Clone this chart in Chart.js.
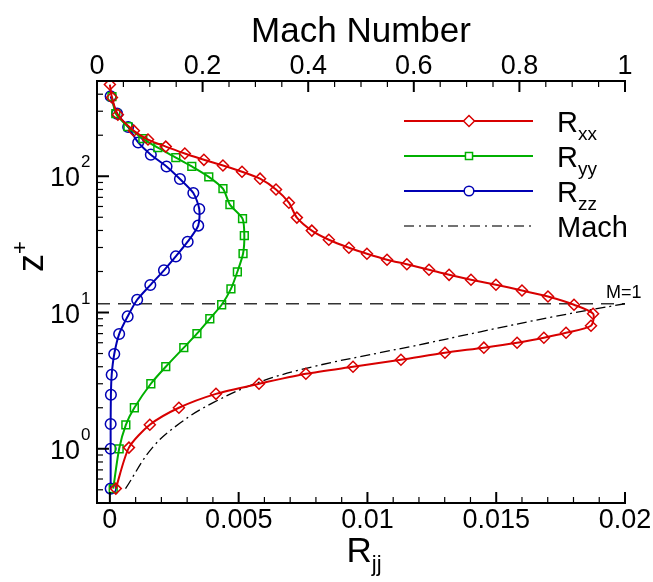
<!DOCTYPE html>
<html>
<head>
<meta charset="utf-8">
<script src="https://cdn.jsdelivr.net/npm/chart.js@4.4.0/dist/chart.umd.min.js"></script>
<style>
body{margin:0;background:#fff;}
#wrap{width:653px;height:582px;}
</style>
</head>
<body>
<div id="wrap"><canvas id="myChart" width="653" height="582"></canvas></div>
<script>
// R_xx profile (red diamonds)
var zXX = [471,378,283,216,186,165,147,132,120,108,96,80,64,49.7,39.9,34.2,29.9,27.0,24.4,22.6,20.6,18.9,17.4,16.0,14.5,13.1,11.4,9.8,8.0,7.1,6.53,6.0,5.52,5.07,4.5,4.0,3.55,3.0,2.53,2.0,1.5,1.02,0.51];
var rXX = [0.00000,0.00008,0.00031,0.00093,0.00148,0.00217,0.00291,0.00365,0.00439,0.00513,0.00583,0.00645,0.00695,0.00726,0.00784,0.00850,0.00928,0.00998,0.01076,0.01153,0.01239,0.01317,0.01402,0.01499,0.01600,0.01701,0.01802,0.01876,0.01868,0.01771,0.01685,0.01581,0.01452,0.01301,0.01130,0.00944,0.00761,0.00579,0.00412,0.00268,0.00155,0.00074,0.00023];
// R_yy profile (green squares)
var zYY = [384,288,231,189,162,137,118,99,81,61.9,48.9,36.6,27.0,19.9,14.9,11.4,9.0,6.99,5.52,4.0,3.0,2.0,1.5,1.0,0.51];
var rYY = [0.00008,0.00023,0.00070,0.00128,0.00186,0.00256,0.00318,0.00384,0.00439,0.00466,0.00515,0.00522,0.00517,0.00495,0.00470,0.00434,0.00388,0.00338,0.00287,0.00217,0.00159,0.00095,0.00062,0.00036,0.00013];
// R_zz profile (blue circles)
var zZZ = [386,288,230,177,144,118,95.5,75.4,57.5,43.4,33.1,25.8,20.4,15.9,12.4,9.36,6.95,4.96,3.49,2.49,1.52,1.0,0.51];
var rZZ = [0.00003,0.00028,0.00071,0.00110,0.00159,0.00220,0.00272,0.00324,0.00347,0.00343,0.00302,0.00256,0.00210,0.00157,0.00106,0.00069,0.00036,0.00017,0.00007,0.00004,0.00003,0.00003,0.00003];
// Mach number profile (top axis)
var zMach = [0.51,1.02,1.55,2.18,3.1,4.0,5.07,5.61,7.22,9.31,11.6];
var mach = [0.054,0.105,0.158,0.220,0.309,0.409,0.536,0.593,0.726,0.864,1.0];
var zSonic = 11.6;

var rTicks = [0,0.005,0.01,0.015,0.02];
var rTickLabels = ['0','0.005','0.01','0.015','0.02'];
var machTicks = [0,0.2,0.4,0.6,0.8,1];
var machTickLabels = ['0','0.2','0.4','0.6','0.8','1'];
var zTicks = [1,10,100];
var zTickExp = ['0','1','2'];

var red = '#d80000', green = '#00b000', blue = '#0000b4';

function pts(xs, ys){
  var out = [];
  for (var i = 0; i < xs.length; i++) out.push({x: xs[i], y: ys[i]});
  return out;
}
function font(px){ return px + 'px "Liberation Sans", Arial, Helvetica, sans-serif'; }

var decor = {
  id: 'decor',
  afterDatasetsDraw: function(chart){
    var ctx = chart.ctx, a = chart.chartArea;
    var sx = chart.scales.x, sm = chart.scales.xm, sy = chart.scales.y;
    var i, v, p, d, k;
    ctx.save();
    ctx.strokeStyle = '#000';
    ctx.lineWidth = 2;
    ctx.beginPath();
    ctx.moveTo(a.left, a.top); ctx.lineTo(a.right + 1, a.top);
    ctx.moveTo(a.left, a.top - 1); ctx.lineTo(a.left, a.bottom + 1);
    ctx.moveTo(a.left, a.bottom); ctx.lineTo(a.right + 1, a.bottom);
    ctx.stroke();

    // bottom ticks
    for (i = 0; i <= 20; i++) {
      v = i * 0.001; p = sx.getPixelForValue(v);
      var maj = (i % 5 == 0);
      ctx.lineWidth = maj ? 2 : 1.2;
      ctx.beginPath(); ctx.moveTo(p, a.bottom); ctx.lineTo(p, a.bottom - (maj ? 11 : 6)); ctx.stroke();
    }
    // top ticks
    for (i = 0; i <= 20; i++) {
      v = i * 0.05; p = sm.getPixelForValue(v);
      var maj2 = (i % 4 == 0);
      ctx.lineWidth = maj2 ? 2 : 1.2;
      ctx.beginPath(); ctx.moveTo(p, a.top); ctx.lineTo(p, a.top + (maj2 ? 11 : 6)); ctx.stroke();
    }
    // left log ticks
    for (d = -1; d <= 2; d++) {
      for (k = 1; k <= 9; k++) {
        v = k * Math.pow(10, d);
        if (v < 0.4 || v > 500) continue;
        p = sy.getPixelForValue(v);
        ctx.lineWidth = (k == 1) ? 2 : 1.2;
        ctx.beginPath(); ctx.moveTo(a.left, p); ctx.lineTo(a.left + (k == 1 ? 12 : 6), p); ctx.stroke();
      }
    }

    // tick labels
    ctx.fillStyle = '#000';
    ctx.font = font(27);
    ctx.textAlign = 'center';
    ctx.textBaseline = 'alphabetic';
    for (i = 0; i < rTicks.length; i++) {
      ctx.fillText(rTickLabels[i], sx.getPixelForValue(rTicks[i]), a.bottom + 25);
    }
    for (i = 0; i < machTicks.length; i++) {
      ctx.fillText(machTickLabels[i], sm.getPixelForValue(machTicks[i]), a.top - 7);
    }
    for (i = 0; i < zTicks.length; i++) {
      p = sy.getPixelForValue(zTicks[i]);
      ctx.textAlign = 'right';
      ctx.font = font(27);
      ctx.fillText('10', a.left - 17, p + 10);
      ctx.textAlign = 'left';
      ctx.font = font(17);
      ctx.fillText(zTickExp[i], a.left - 16, p - 9);
    }

    // axis titles
    ctx.textAlign = 'center';
    ctx.font = font(35);
    ctx.fillText('Mach Number', (a.left + a.right) / 2, 42);

    ctx.textAlign = 'left';
    ctx.font = font(35);
    var wR = ctx.measureText('R').width;
    ctx.font = font(22);
    var wJ = ctx.measureText('jj').width;
    var x0 = (a.left + a.right) / 2 + 3 - (wR + wJ) / 2;
    ctx.font = font(35);
    ctx.fillText('R', x0, 562);
    ctx.font = font(22);
    ctx.fillText('jj', x0 + wR, 571);

    ctx.save();
    ctx.translate(43, 272);
    ctx.rotate(-Math.PI / 2);
    ctx.font = font(36);
    ctx.textAlign = 'left';
    ctx.fillText('z', 0, 0);
    var wz = ctx.measureText('z').width;
    ctx.font = font(22);
    ctx.fillText('+', wz, -16);
    ctx.restore();

    // sonic label
    ctx.font = font(18);
    ctx.textAlign = 'left';
    ctx.fillText('M=1', sx.getPixelForValue(0.02) - 19, sy.getPixelForValue(zSonic) - 6);

    // legend
    var rows = [
      {c: red, style: 'rectRot', r: 5.5, main: 'R', sub: 'xx'},
      {c: green, style: 'rect', r: 5, main: 'R', sub: 'yy'},
      {c: blue, style: 'circle', r: 4.8, main: 'R', sub: 'zz'},
      {c: '#444', style: null, main: 'Mach', sub: ''}
    ];
    for (i = 0; i < rows.length; i++) {
      var ry = 121 + i * 35;
      var row = rows[i];
      ctx.strokeStyle = row.c;
      ctx.lineWidth = row.style ? 2 : 1.3;
      ctx.setLineDash(row.style ? [] : [10, 5, 2, 5]);
      ctx.beginPath(); ctx.moveTo(404, ry); ctx.lineTo(533, ry); ctx.stroke();
      ctx.setLineDash([]);
      if (row.style) {
        ctx.fillStyle = '#fff';
        ctx.lineWidth = 1.5;
        Chart.helpers.drawPoint(ctx, {pointStyle: row.style, radius: row.r, rotation: 0, borderWidth: 1.5}, 469, ry);
      }
      ctx.fillStyle = '#000';
      ctx.textAlign = 'left';
      ctx.font = font(29);
      ctx.fillText(row.main, 557, ry + 11);
      if (row.sub) {
        var wm = ctx.measureText(row.main).width;
        ctx.font = font(19);
        ctx.fillText(row.sub, 557 + wm, ry + 19);
      }
    }
    ctx.restore();
  }
};

function series(label, xs, ys, color, style, r){
  return {
    label: label, data: pts(xs, ys), xAxisID: 'x', yAxisID: 'y',
    showLine: true, tension: 0.25,
    borderColor: color, borderWidth: 2,
    pointStyle: style, pointRadius: r, pointBorderWidth: 1.5,
    pointBorderColor: color, pointBackgroundColor: 'rgba(0,0,0,0)'
  };
}

var ctx = document.getElementById('myChart').getContext('2d');
var myChart = new Chart(ctx, {
  type: 'scatter',
  data: {
    datasets: [
      series('Rxx', rXX, zXX, red, 'rectRot', 5.5),
      series('Ryy', rYY, zYY, green, 'rect', 5.5),
      series('Rzz', rZZ, zZZ, blue, 'circle', 5.3),
      {
        label: 'Mach', data: pts(mach, zMach), xAxisID: 'xm', yAxisID: 'y',
        showLine: true, tension: 0.4, borderColor: '#000', borderWidth: 1.3,
        borderDash: [10, 4, 2, 4], pointRadius: 0
      },
      {
        label: 'M=1', data: pts([-0.0005, 0.02], [zSonic, zSonic]), xAxisID: 'x', yAxisID: 'y',
        showLine: true, borderColor: '#333', borderWidth: 1.3,
        borderDash: [13, 8], pointRadius: 0
      }
    ]
  },
  options: {
    responsive: false,
    animation: false,
    layout: {padding: {left: 97, right: 28, top: 81, bottom: 79}},
    plugins: {legend: {display: false}, tooltip: {enabled: false}},
    scales: {
      x: {type: 'linear', min: -0.0005, max: 0.02, display: false},
      xm: {type: 'linear', position: 'top', min: 0, max: 1, display: false},
      y: {type: 'logarithmic', min: 0.4, max: 500, display: false}
    }
  },
  plugins: [decor]
});
</script>
</body>
</html>
